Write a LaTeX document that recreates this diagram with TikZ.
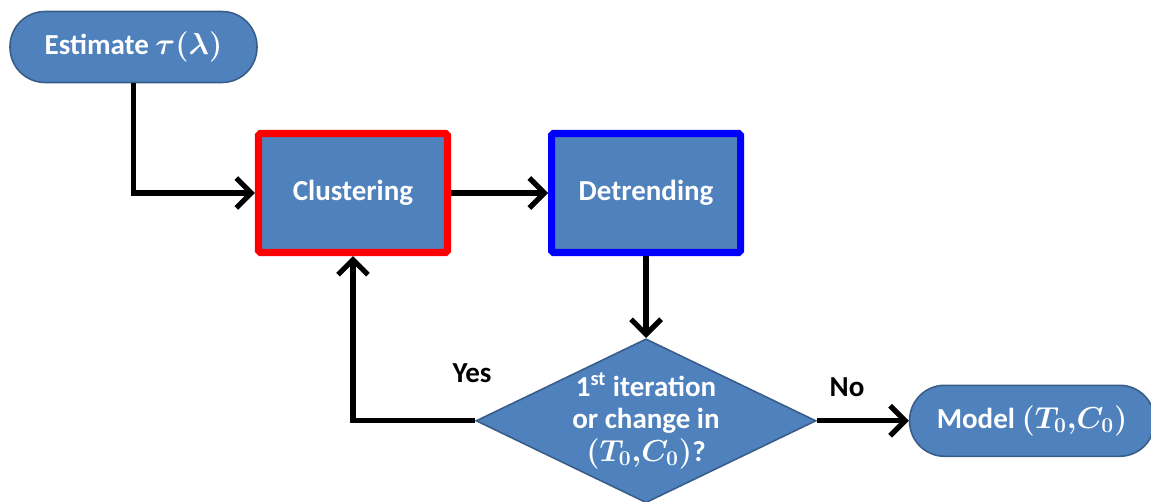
\documentclass[tikz,border=0pt]{standalone}
\usepackage{fontspec}
\setmainfont{Carlito}
\usetikzlibrary{arrows.meta,positioning,shapes.geometric}
\definecolor{boxfill}{HTML}{4F81BD}
\definecolor{boxline}{HTML}{385D8A}

\begin{document}
\begin{tikzpicture}[font=\fontsize{16.5}{18.5}\selectfont\bfseries\boldmath,
  box/.style={fill=boxfill,text=white,align=center,minimum width=3.78cm,minimum height=2.38cm,line width=4pt,rounded corners=1pt},
  pill/.style={fill=boxfill,draw=boxline,line width=0.9pt,text=white,rounded corners=0.7cm,minimum height=1.42cm,inner sep=0pt},
  decision/.style={diamond,aspect=2.07,fill=boxfill,draw=boxline,line width=0.9pt,text=white,align=center,minimum width=6.8cm,minimum height=3.28cm,inner sep=-8pt},
  arrow/.style={-{Straight Barb[length=3mm,width=6mm]},line width=3pt,black}]
\useasboundingbox (0,0) rectangle (23.02,10.04);
\node[pill,minimum width=4.94cm] (est) at (2.67,9.10) {Estimate $\tau(\lambda)$};
\node[box,draw=red] (clu) at (7.06,6.18) {Clustering};
\node[box,draw=blue,right=1.94cm of clu] (det) {Detrending};
\node[decision,below=1.64cm of det] (dia) {1\textsuperscript{st} iteration\\or change in\\$(T_0{,}C_0)$?};
\node[pill,minimum width=4.9cm,right=1.84cm of dia] (mod) {Model $(T_0{,}C_0)$};
\node (yes) at (9.44,2.58) {Yes};
\node (no) at (16.94,2.30) {No};
\draw[arrow] (est.south) |- (clu.west);
\draw[arrow] (clu) -- (det);
\draw[arrow] (det) -- (dia);
\draw[arrow] (dia.west) -| (clu.south);
\draw[arrow] (dia) -- (mod);
\end{tikzpicture}
\end{document}
